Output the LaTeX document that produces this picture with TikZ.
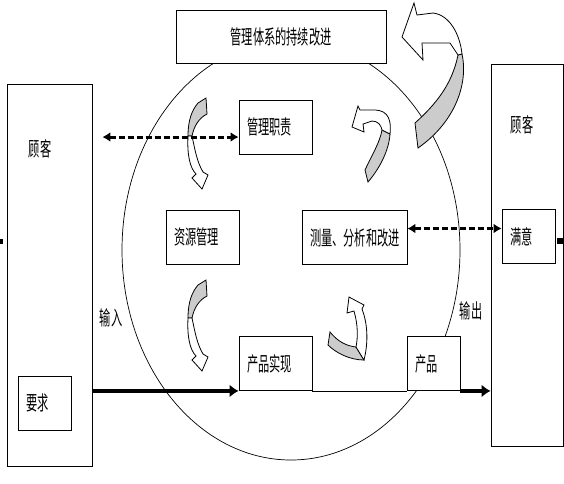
\documentclass[tikz,border=0pt]{standalone}
\usepackage{fontspec}
\setmainfont{Noto Sans CJK SC}[FakeStretch=0.56]
\usetikzlibrary{calc}
\usetikzlibrary{arrows.meta}
\definecolor{huise}{gray}{0.8}

\begin{document}
\begin{tikzpicture} [x=1pt, y=-1pt, line width=.9pt,
  every node/.style={font=\fontsize{20}{22}\selectfont},
  kuang/.style={draw, fill=white, minimum height=54, text width=#1, inner xsep=8, align=left},
  xu/.style={line width=3, dash pattern=on 6pt off 3pt, {Latex[length=8pt,width=10pt]}-{Latex[length=8pt,width=10pt]}},
  cu/.style={line width=4, -{Latex[length=9pt,width=13pt]}},
  jian/.style={line width=.8, fill=#1}]
\useasboundingbox (0,0) rectangle (564,483);
\draw[line width=.7] (291,250) ellipse [x radius=169pt, y radius=210pt];

% curved arrows
\foreach \dy in {0,182} {
 \begin{scope}[shift={(0,\dy)}]
 \filldraw[jian=huise] (198,103) -- (206,98) -- (207,114) .. controls (199,118) and (194,126) .. (192,136) -- (188,136) .. controls (188,120) and (192,110) .. cycle;
 \filldraw[jian=white] (188,136) .. controls (187,155) and (190,168) .. (196,174) -- (192,178) -- (202,189) -- (208,175) -- (203,172) .. controls (197,162) and (195,150) .. (192,136) -- cycle;
 \end{scope}
}
\filldraw[jian=huise] (330,332) .. controls (338,342) and (347,346) .. (356,347) -- (364,360) .. controls (350,360) and (336,353) .. (328,345) -- cycle;
\filldraw[jian=white] (364,360) .. controls (369,340) and (367,322) .. (362,309) -- (364,305) -- (349,297) -- (347,313) -- (354,311) .. controls (358,325) and (358,337) .. (356,347) -- cycle;
\filldraw[jian=huise] (365,170) .. controls (372,155) and (380,142) .. (382,130) -- (390,134) .. controls (389,150) and (380,168) .. (368,182) -- cycle;
\filldraw[jian=white] (390,134) .. controls (392,115) and (385,109) .. (370,110) -- (360,110) -- (358,106) -- (352,127) -- (364,132) -- (363,124) -- (372,121) .. controls (378,121) and (381,125) .. (382,130) -- cycle;
\filldraw[jian=huise] (415,123) .. controls (435,105) and (452,85) .. (458,55) -- (462,54) .. controls (468,80) and (458,120) .. (418,148) -- cycle;
\filldraw[jian=white] (462,54) .. controls (460,35) and (450,15) .. (433,13) -- (417,15) -- (414,3) -- (402,37) -- (423,60) -- (422,43) -- (450,43) -- (458,55) -- cycle;

\node[draw, minimum width=85, minimum height=382] (kehuL) at (49.5,275) {};
\node[draw, minimum width=72, minimum height=382] (kehuR) at (527,255) {};
\node (guke1) at (40,149) {顾客};
\node (guke2) at (522,125) {顾客};
\node[draw, fill=white, minimum width=210, minimum height=53] (gaijin) at (281,36.5) {管理体系的持续改进};
\node[kuang=57] (zhize) at (275.5,127) {管理职责};
\node[kuang=57] (ziyuan) at (202.5,237) {资源管理};
\node[kuang=89] (celiang) at (354.5,237.5) {测量、分析和改进};
\node[kuang=57] (shixian) at (275.5,363.5) {产品实现};
\node[kuang=37] (chanpin) at (433.5,363.5) {产品};
\node[kuang=37] (yaoqiu) at (44.5,403) {要求};
\node[kuang=37] (manyi) at (528.5,236.5) {满意};
\node (shuru) at (111,318) {输入};
\node (shuchu) at (471,311) {输出};

\draw[xu] ($(kehuL.east |- zhize.west)+(10,10)$) -- ($(zhize.west)+(0,10)$);
\draw[xu] ($(celiang.east)+(0,-9)$) -- ($(manyi.west |- celiang.east)+(0,-9)$);
\draw[cu] (kehuL.east |- shixian.south) -- (shixian.south west);
\draw (shixian.south east) -- (chanpin.south west);
\draw[cu] (chanpin.south east) -- (kehuR.west |- chanpin.south);
\fill (0,239) rectangle (3,244);
\fill (557,238) rectangle (563,244);
\end{tikzpicture}
\end{document}
